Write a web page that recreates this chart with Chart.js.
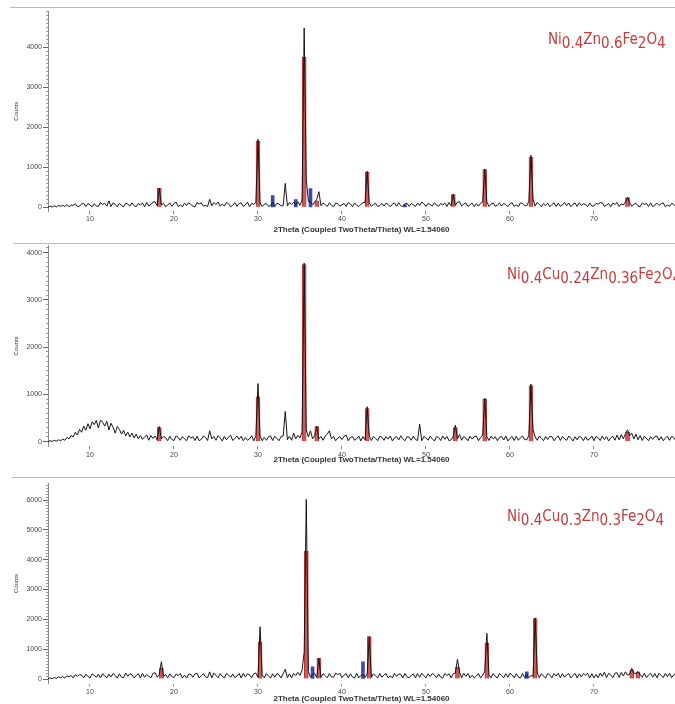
<!DOCTYPE html>
<html lang="en">
<head>
  <meta charset="UTF-8">
  <title>XRD patterns</title>

  <!-- Chart.js -->
  <script src="https://cdn.jsdelivr.net/npm/chart.js"></script>

  <style>
    * {
      margin: 0;
      padding: 0;
      box-sizing: border-box;
    }

    body {
      width: 675px;
      height: 704px;
      background: #fff;
      position: relative;
      overflow: hidden;
      font-family: 'Liberation Sans', Arial, sans-serif;
    }

    canvas {
      position: absolute;
      left: 0;
    }

    .rule {
      position: absolute;
      height: 1px;
      right: 0;
      background: #b8b8b8;
    }

    .formula {
      position: absolute;
      color: #c63b3b;
      font-family: 'Liberation Sans Narrow', 'DejaVu Sans Condensed', sans-serif;
      font-size: 15px;
      line-height: 15px;
      white-space: nowrap;
    }

    .formula span {
      position: relative;
      top: 4px;
    }
  </style>
</head>

<body>
  <div class="rule" style="top:7px; left:10px;"></div>
  <div class="rule" style="top:243px; left:13px;"></div>
  <div class="rule" style="top:477px; left:12px;"></div>

  <canvas id="c1" width="675" height="235" style="top:0"></canvas>
  <canvas id="c2" width="675" height="235" style="top:235px"></canvas>
  <canvas id="c3" width="675" height="234" style="top:470px"></canvas>

  <div class="formula" style="left:548px; top:32px;">Ni<span>0.4</span>Zn<span>0.6</span>Fe<span>2</span>O<span>4</span></div>
  <div class="formula" style="left:507px; top:267px;">Ni<span>0.4</span>Cu<span>0.24</span>Zn<span>0.36</span>Fe<span>2</span>O<span>4</span></div>
  <div class="formula" style="left:507px; top:509px;">Ni<span>0.4</span>Cu<span>0.3</span>Zn<span>0.3</span>Fe<span>2</span>O<span>4</span></div>

  <script>
    // scan: 2theta from 5 deg, step 0.25 deg (4 values per degree)
    const xStart = 5;
    const xStep = 0.25;
    const xTicks = [10, 20, 30, 40, 50, 60, 70];

    // Ni0.4Zn0.6Fe2O4
    const trace1 = [
      0, 30, 5, 40,   10, 45, 25, 50,   20, 70, 10, 60,   45, 90, 15, 30,   80, 100, 20, 95,
      60, 10, 85, 40,   20, 120, 70, 100,   30, 160, 20, 110,   75, 15, 95, 50,   10, 100, 80, 30,
      110, 45, 15, 95,   60, 105, 10, 120,   30, 70, 130, 140,   40, 480, 60, 100,   15, 55, 110, 25,
      90, 130, 20, 60,   15, 105, 45, 115,   70, 30, 10, 120,   85, 110, 30, 50,   20, 200, 35, 120,
      65, 130, 25, 80,   30, 120, 90, 15,   50, 115, 25, 95,   110, 20, 60, 130,   15, 100, 75, 120,
      1700, 110, 20, 70,   95, 25, 40, 130,   20, 105, 80, 35,   40, 600, 30, 120,   75, 130, 60, 140,
      50, 180, 4480, 700,   150, 140, 60, 130,   200, 390, 40, 110,   70, 20, 115, 45,   15, 105, 90, 30,
      60, 95, 20, 120,   85, 15, 110, 50,   20, 75, 115, 120,   900, 110, 25, 70,   100, 20, 45, 95,
      30, 105, 70, 15,   80, 110, 25, 115,   40, 15, 90, 100,   25, 95, 60, 20,   105, 45, 130, 90,
      20, 100, 70, 30,   115, 55, 25, 95,   60, 105, 20, 120,   40, 330, 50, 130,   140, 30, 80, 110,
      20, 65, 105, 15,   90, 30, 100, 130,   960, 140, 20, 80,   110, 25, 55, 105,   30, 95, 70, 15,
      85, 115, 25, 60,   20, 110, 95, 35,   40, 150, 1300, 200,   30, 120, 65, 20,   95, 45, 105, 15,
      70, 110, 20, 100,   25, 60, 120, 40,   105, 15, 75, 110,   20, 115, 45, 90,   65, 15, 105, 30,
      30, 100, 80, 115,   110, 20, 55, 95,   15, 105, 70, 120,   20, 85, 60, 130,   250, 120, 25, 80,
      100, 35, 15, 105,   70, 95, 20, 110,   15, 60, 100, 45,   90, 110, 15, 55,   25, 100, 75, 20
    ];
    const redPos1 = [18.25, 30.0, 35.5, 37.0, 43.0, 53.25, 57.0, 62.5, 74.0];
    const redH1 = [480, 1650, 3750, 160, 880, 320, 940, 1250, 240];
    const bluePos1 = [31.75, 34.5, 36.25, 47.5];
    const blueH1 = [290, 190, 470, 70];
    const yTicks1 = [0, 1000, 2000, 3000, 4000];

    // Ni0.4Cu0.24Zn0.36Fe2O4
    const trace2 = [
      0, 20, 5, 30,   10, 40, 20, 55,   30, 90, 60, 130,   100, 200, 140, 260,   200, 330, 240, 380,
      270, 420, 360, 450,   290, 460, 410, 330,   430, 250, 390, 300,   180, 320, 260, 160,   240, 120, 200, 100,
      180, 80, 160, 60,   130, 50, 100, 140,   30, 130, 70, 120,   40, 320, 60, 110,   85, 20, 115, 45,
      25, 120, 90, 30,   110, 60, 20, 125,   75, 105, 25, 115,   20, 50, 120, 90,   25, 230, 60, 110,
      30, 125, 80, 15,   110, 40, 100, 135,   25, 70, 120, 50,   115, 20, 85, 30,   60, 125, 15, 130,
      1230, 120, 20, 90,   30, 105, 120, 25,   115, 65, 20, 110,   120, 640, 40, 115,   30, 180, 60, 130,
      80, 200, 3780, 250,   100, 230, 60, 120,   330, 60, 110, 30,   120, 160, 230, 60,   110, 20, 75, 105,
      45, 115, 140, 20,   90, 110, 30, 60,   120, 15, 105, 40,   740, 120, 25, 110,   70, 20, 115, 95,
      30, 105, 55, 120,   15, 80, 110, 35,   125, 60, 20, 105,   95, 30, 115, 45,   25, 370, 20, 110,
      80, 30, 115, 60,   15, 105, 90, 25,   120, 50, 110, 20,   40, 110, 350, 60,   150, 30, 110, 75,
      20, 115, 55, 105,   120, 20, 85, 140,   920, 110, 25, 115,   60, 105, 20, 90,   110, 35, 120, 15,
      70, 110, 25, 115,   30, 85, 120, 45,   40, 130, 1220, 250,   100, 30, 120, 70,   20, 110, 45, 115,
      105, 20, 80, 120,   25, 110, 60, 30,   120, 75, 15, 105,   40, 115, 90, 20,   105, 30, 60, 120,
      20, 110, 85, 25,   120, 45, 105, 15,   80, 115, 30, 140,   40, 150, 60, 170,   250, 130, 180, 60,
      160, 40, 130, 25,   115, 70, 20, 105,   50, 110, 120, 30,   105, 20, 75, 115,   30, 110, 90, 20
    ];
    const redPos2 = [18.25, 30.0, 35.5, 37.0, 43.0, 53.5, 57.0, 62.5, 74.0];
    const redH2 = [300, 950, 3750, 320, 700, 300, 900, 1180, 200];
    const bluePos2 = [];
    const blueH2 = [];
    const yTicks2 = [0, 1000, 2000, 3000, 4000];

    // Ni0.4Cu0.3Zn0.3Fe2O4
    const trace3 = [
      0, 40, 10, 50,   20, 70, 45, 80,   30, 110, 70, 120,   35, 140, 90, 150,   130, 40, 160, 95,
      30, 170, 120, 60,   160, 40, 180, 100,   45, 165, 70, 185,   120, 30, 175, 60,   45, 200, 90, 175,
      140, 40, 110, 180,   35, 185, 60, 150,   90, 40, 190, 210,   60, 160, 580, 90,   150, 40, 175, 80,
      45, 170, 110, 185,   40, 130, 35, 165,   160, 60, 175, 190,   35, 110, 180, 70,   50, 240, 40, 200,
      120, 45, 180, 90,   40, 185, 130, 60,   170, 45, 100, 185,   35, 190, 70, 175,   140, 40, 180, 200,
      60, 1750, 140, 40,   180, 95, 35, 175,   60, 185, 140, 35,   180, 325, 50, 175,   40, 190, 120, 220,
      120, 300, 900, 6020,   250, 60, 150, 190,   50, 690, 60, 180,   110, 40, 185, 70,   60, 200, 150, 190,
      45, 130, 180, 40,   175, 70, 35, 185,   40, 120, 150, 60,   180, 1420, 60, 175,   100, 40, 185, 60,
      140, 180, 40, 110,   35, 190, 90, 170,   160, 40, 185, 70,   45, 120, 175, 40,   185, 60, 190, 110,
      40, 175, 80, 185,   140, 45, 170, 60,   35, 185, 120, 175,   40, 180, 200, 660,   230, 40, 190, 90,
      180, 45, 130, 40,   100, 185, 35, 130,   250, 1530, 150, 40,   180, 90, 35, 185,   120, 40, 180, 60,
      190, 140, 40, 175,   70, 35, 185, 45,   150, 50, 120, 90,   2050, 200, 40, 180,   90, 35, 185, 130,
      40, 180, 100, 190,   45, 175, 60, 140,   185, 35, 120, 190,   40, 175, 70, 185,   130, 190, 40, 180,
      35, 150, 45, 200,   90, 230, 50, 190,   140, 45, 195, 210,   50, 220, 100, 240,   130, 160, 360, 200,
      180, 250, 150, 60,   200, 45, 140, 190,   60, 185, 40, 195,   120, 50, 185, 80,   195, 45, 140, 200
    ];
    const redPos3 = [18.5, 30.25, 35.75, 37.25, 43.25, 53.75, 57.25, 63.0, 74.5, 75.25];
    const redH3 = [360, 1250, 4290, 690, 1420, 400, 1200, 2030, 300, 240];
    const bluePos3 = [36.5, 42.5, 62.0];
    const blueH3 = [410, 580, 245];
    const yTicks3 = [0, 1000, 2000, 3000, 4000, 5000, 6000];

    function traceXY(t) {
      return t.map((y, i) => ({ x: xStart + i * xStep, y: y }));
    }

    function peaksXY(pos, h) {
      return pos.map((x, i) => ({ x: x, y: h[i] }));
    }

    function makePanel(id, p) {
      new Chart(document.getElementById(id), {
        type: 'line',
        data: {
          datasets: [
            {
              type: 'line',
              data: traceXY(p.trace),
              borderColor: '#151515',
              borderWidth: 1,
              pointRadius: 0,
              tension: 0,
              order: 0
            },
            {
              type: 'bar',
              data: peaksXY(p.redPos, p.redH),
              backgroundColor: 'rgba(206, 66, 66, 0.88)',
              borderColor: '#b03030',
              borderWidth: 0.6,
              barThickness: 4,
              grouped: false,
              order: 1
            },
            {
              type: 'bar',
              data: peaksXY(p.bluePos, p.blueH),
              backgroundColor: 'rgba(45, 65, 175, 0.95)',
              barThickness: 3,
              grouped: false,
              order: 2
            }
          ]
        },
        options: {
          responsive: false,
          animation: false,
          events: [],
          layout: { padding: { top: p.padTop, left: 0, right: 0, bottom: 0 } },
          plugins: { legend: { display: false }, tooltip: { enabled: false } },
          scales: {
            x: {
              type: 'linear',
              min: 5,
              max: 79.65,
              offset: false,
              afterBuildTicks: s => { s.ticks = xTicks.map(v => ({ value: v })); },
              afterFit: s => { s.height = p.axisH; },
              ticks: { font: { size: 7 }, color: '#444', padding: 1, maxRotation: 0 },
              grid: { offset: false, drawOnChartArea: false, tickLength: 3, tickColor: '#888' },
              border: { display: false },
              title: {
                display: true,
                text: '2Theta (Coupled TwoTheta/Theta) WL=1.54060',
                font: { size: 8, weight: 'bold' },
                color: '#333',
                padding: { top: 0, bottom: p.titlePad }
              }
            },
            y: {
              min: p.yMin,
              max: p.yMax,
              afterBuildTicks: s => {
                const t = [];
                for (let v = 0; v <= p.yMax; v += 100) t.push({ value: v });
                s.ticks = t;
              },
              afterFit: s => { s.width = 48; },
              ticks: {
                autoSkip: false,
                font: { size: 7 },
                color: '#444',
                padding: 1,
                callback: v => p.yTicks.includes(v) ? String(v) : ''
              },
              grid: {
                offset: false,
                drawOnChartArea: false,
                tickLength: 5,
                tickColor: c => p.yTicks.includes(c.tick.value) ? '#666' : '#999',
                tickBorderDash: c => p.yTicks.includes(c.tick.value) ? [] : [0, 3, 2, 10]
              },
              border: { color: '#888' },
              title: {
                display: true,
                text: 'Counts',
                font: { size: 6 },
                color: '#333',
                padding: { top: 13, bottom: 0 }
              }
            }
          }
        }
      });
    }

    makePanel('c1', {
      trace: trace1, redPos: redPos1, redH: redH1, bluePos: bluePos1, blueH: blueH1,
      yTicks: yTicks1, yMin: -100, yMax: 4900, padTop: 11.3, axisH: 23.7, titlePad: 0.9
    });
    makePanel('c2', {
      trace: trace2, redPos: redPos2, redH: redH2, bluePos: bluePos2, blueH: blueH2,
      yTicks: yTicks2, yMin: -100, yMax: 4150, padTop: 10.6, axisH: 23.6, titlePad: 5.2
    });
    makePanel('c3', {
      trace: trace3, redPos: redPos3, redH: redH3, bluePos: bluePos3, blueH: blueH3,
      yTicks: yTicks3, yMin: -150, yMax: 6550, padTop: 13.6, axisH: 20.5, titlePad: 0
    });
  </script>
</body>
</html>
